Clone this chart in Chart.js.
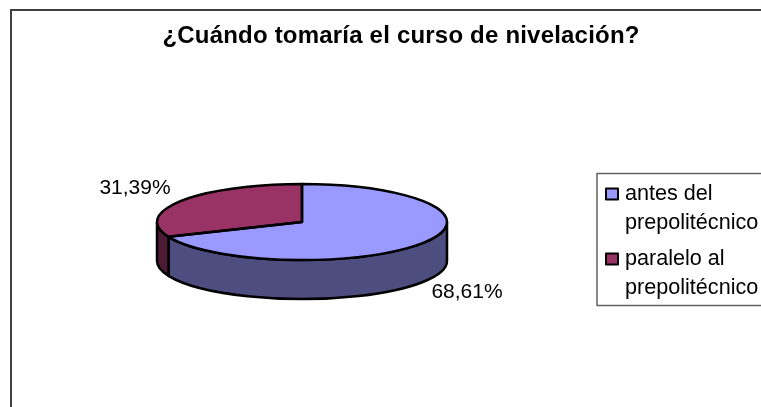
<!DOCTYPE html>
<html><head><meta charset="utf-8">
<script src="https://cdn.jsdelivr.net/npm/chart.js@4/dist/chart.umd.min.js"></script>
<style>html,body{margin:0;padding:0;background:#fff;overflow:hidden;width:761px;height:407px}canvas{display:block;position:absolute;left:0;top:0}</style>
</head><body><canvas id="c" width="802" height="407"></canvas>
<script>
const categories = ['antes del prepolitécnico', 'paralelo al prepolitécnico'];
const legendLines = [['antes del', 'prepolitécnico'], ['paralelo al', 'prepolitécnico']];
const values = [68.61, 31.39];
const valueLabels = ['68,61%', '31,39%'];
const topColors = ['#9999FF', '#993366'];
const sideColors = ['#4D4D80', '#4D1A33'];
const chartTitle = '¿Cuándo tomaría el curso de nivelación?';

const TILT = 0.262, DEPTH = 39, FONT = '"Liberation Sans", Arial, sans-serif';

const pie3d = {
  id: 'pie3d',
  afterLayout(chart) {
    const t = chart.titleBlock;
    t.left = 0; t.right = 802; t.width = 802;
  },
  beforeDraw(chart) {
    const c = chart.ctx;
    c.save();
    c.strokeStyle = '#404040'; c.lineWidth = 2;
    c.strokeRect(11, 10, 900, 500);
    c.restore();
    c.letterSpacing = '0.2px';
  },
  beforeDatasetsDraw(chart) {
    const c = chart.ctx, arcs = chart.getDatasetMeta(0).data;
    c.letterSpacing = '0px';
    arcs.forEach((a, i) => {
      const s = Math.max(a.startAngle, 0), e = Math.min(a.endAngle, Math.PI);
      if (e <= s) return;
      const rx = a.outerRadius, ry = rx * TILT;
      c.beginPath();
      c.ellipse(a.x, a.y, rx, ry, 0, s, e);
      c.ellipse(a.x, a.y + DEPTH, rx, ry, 0, e, s, true);
      c.closePath();
      c.fillStyle = sideColors[i]; c.fill();
      c.strokeStyle = '#000'; c.lineWidth = 2.5; c.lineJoin = 'round'; c.stroke();
    });
    const cy = arcs[0].y;
    c.save();
    c.translate(0, cy); c.scale(1, TILT); c.translate(0, -cy);
  },
  afterDatasetsDraw(chart) {
    const c = chart.ctx, arcs = chart.getDatasetMeta(0).data;
    c.restore();
    arcs.forEach(a => {
      const rx = a.outerRadius, ry = rx * TILT;
      c.beginPath();
      c.moveTo(a.x, a.y);
      c.ellipse(a.x, a.y, rx, ry, 0, a.startAngle, a.endAngle);
      c.closePath();
      c.strokeStyle = '#000'; c.lineWidth = 2.5; c.lineJoin = 'round'; c.stroke();
    });
    // value labels
    c.save();
    c.fillStyle = '#000'; c.font = '21px ' + FONT; c.textAlign = 'center'; c.textBaseline = 'middle';
    c.fillText(valueLabels[0], 467, 292);
    c.fillText(valueLabels[1], 135, 188);
    // legend
    c.font = '21.6px ' + FONT;
    c.strokeStyle = '#606060'; c.lineWidth = 1.5;
    c.strokeRect(597, 173.5, 300, 132);
    c.textAlign = 'left';
    const rows = [[194, 223], [259, 288]];
    legendLines.forEach((ls, i) => {
      const y0 = rows[i][0];
      c.fillStyle = topColors[i];
      c.fillRect(606, y0 - 5.5, 12, 11);
      c.strokeStyle = '#000'; c.lineWidth = 2;
      c.strokeRect(606, y0 - 5.5, 12, 11);
      c.fillStyle = '#000';
      ls.forEach((t, j) => c.fillText(t, 625, rows[i][j]));
    });
    c.restore();
  }
};

new Chart(document.getElementById('c'), {
  type: 'pie',
  data: { labels: categories, datasets: [{ data: values, backgroundColor: topColors, borderWidth: 0 }] },
  options: {
    responsive: false, animation: false, rotation: 0,
    layout: { padding: { left: 157, right: 355, top: 0, bottom: 40 } },
    plugins: {
      legend: { display: false }, tooltip: { enabled: false },
      title: { display: true, text: chartTitle, color: '#000', align: 'center',
        font: { family: FONT, size: 24, weight: 'bold' },
        padding: { top: 22, bottom: 26.2 } }
    }
  },
  plugins: [pie3d]
});
</script></body></html>
